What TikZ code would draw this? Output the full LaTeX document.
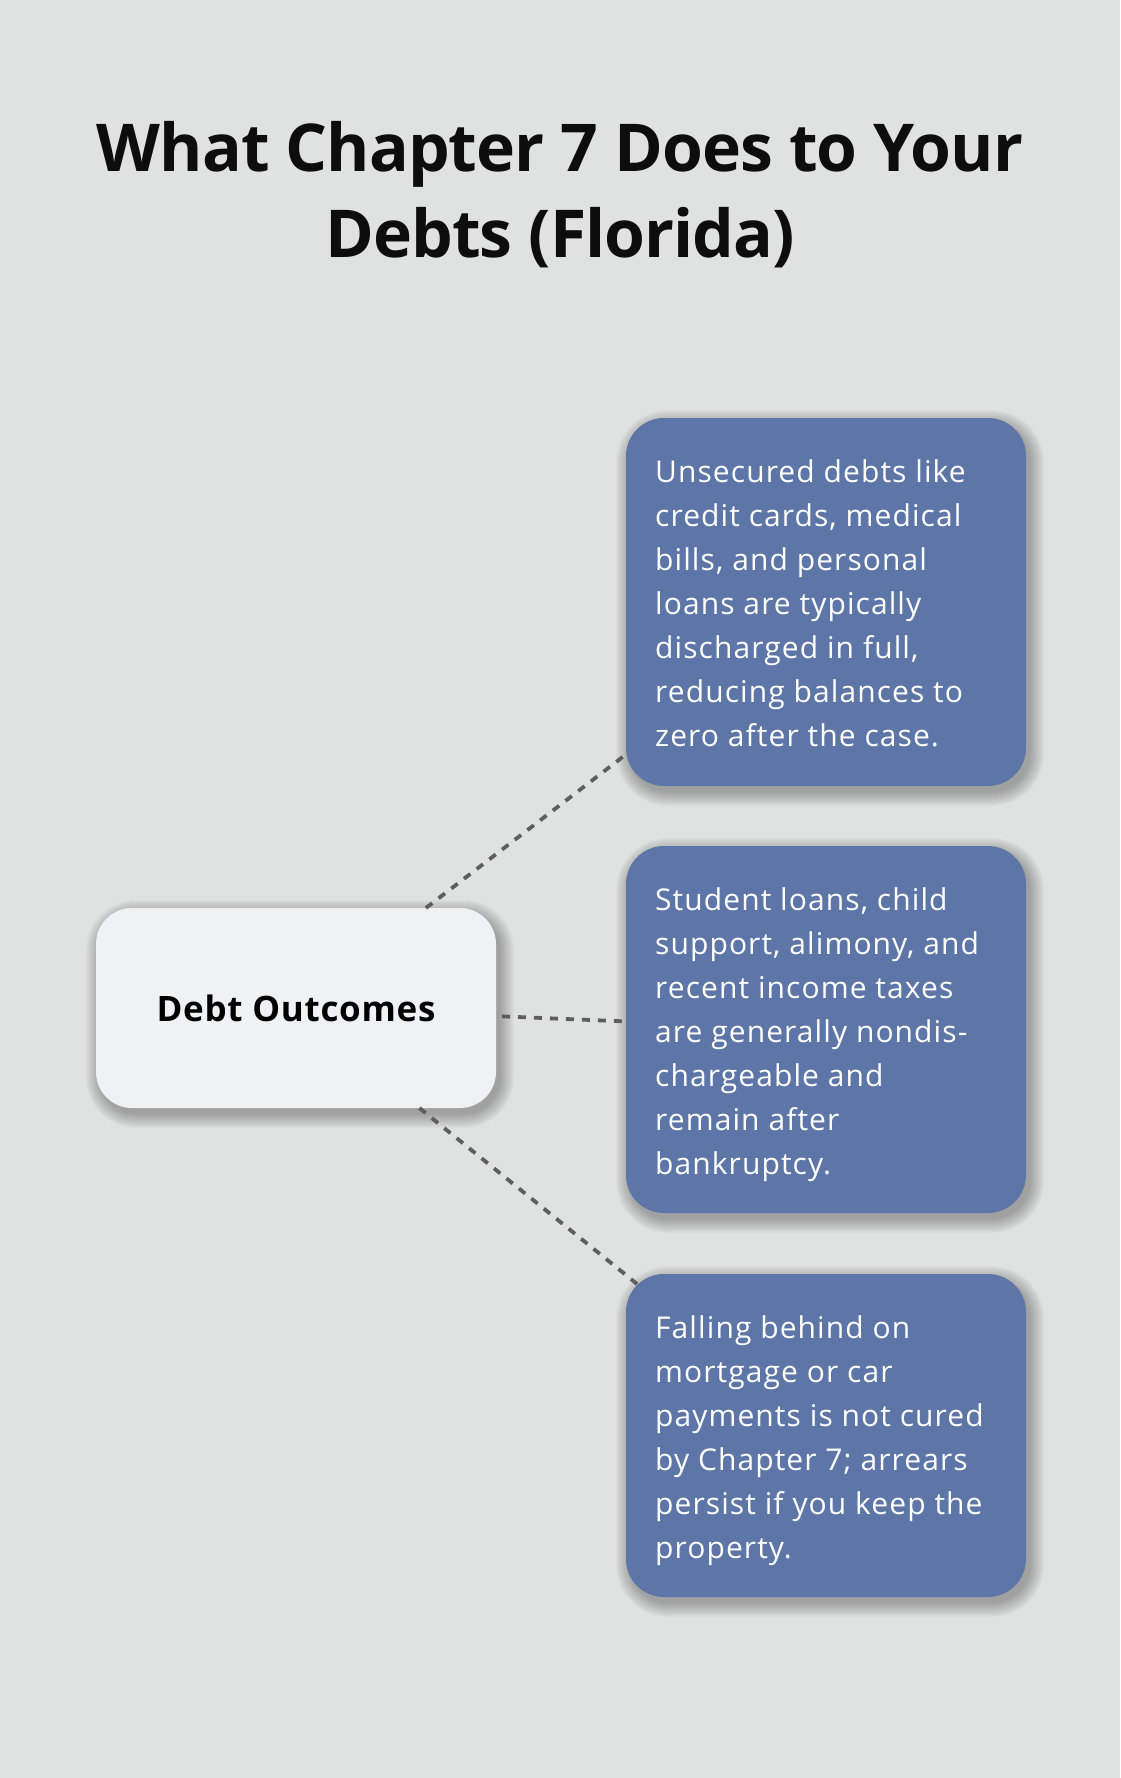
\documentclass[tikz,border=0pt]{standalone}
\usepackage{fontspec}
\setmainfont{Open Sans}
\newfontfamily\bodyfont[LetterSpace=3.6]{Open Sans}
\newfontfamily\centerfont[LetterSpace=2]{Open Sans}
\newfontfamily\titlefont[LetterSpace=-1.5]{Open Sans}
\begin{document}
\begin{tikzpicture}[x=1pt,y=-1pt,
  bodytext/.style={text=white, font=\bodyfont\fontsize{30}{44}\selectfont, inner sep=0pt, anchor=base west},
  titletext/.style={text=black!95, font=\titlefont\bfseries\fontsize{66}{86}\selectfont, inner sep=0pt, anchor=base},
  bluebox/.style={fill=boxblue, rounded corners=38pt, minimum width=400pt, inner sep=0pt, outer sep=0pt},
  centerbox/.style={fill=centerfill, rounded corners=36pt, minimum width=400pt, minimum height=200pt, inner sep=0pt, outer sep=0pt, font=\centerfont\bfseries\fontsize{35}{40}\selectfont},
  link/.style={draw=linkgray, line width=3.8pt, dash pattern=on 8pt off 8pt}
]
\definecolor{bgcol}{HTML}{E0E2E1}
\definecolor{boxblue}{HTML}{5D76A7}
\definecolor{centerfill}{HTML}{F0F1F3}
\definecolor{linkgray}{HTML}{5E5E5E}
\useasboundingbox (0,0) rectangle (1120,1778);
\fill[bgcol] (0,0) rectangle (1120,1778);
% soft shadows
\foreach \xa/\ya/\xb/\yb/\r in {626/418/1026/786/38, 626/846/1026/1213/38, 626/1274/1026/1597/38, 96/908/496/1108/36}{
  \foreach \i in {0,...,14}{
    \fill[black, opacity=0.018, rounded corners={\r+\i}] ({\xa+4-\i},{\ya+6-\i}) rectangle ({\xb+4+\i},{\yb+6+\i});
  }
}
% title
\node[titletext] (title1) at (560,171) {What Chapter 7 Does to Your};
\node[titletext] (title2) at (560,257) {Debts (Florida)};
% boxes
\node[centerbox] (center) at (296,1008) {Debt Outcomes};
\node[bluebox, minimum height=368pt] (b1) at (826,602) {};
\node[bluebox, minimum height=367pt] (b2) at (826,1029.5) {};
\node[bluebox, minimum height=323pt] (b3) at (826,1435.5) {};
% texts
\foreach \l [count=\i] in {{Unsecured debts like},{credit cards, medical},{bills, and personal},{loans are typically},{discharged in full,},{reducing balances to},{zero after the case.}}
  \node[bodytext] (t1-\i) at (655,{482+44*(\i-1)}) {\l};
\foreach \l [count=\i] in {{Student loans, child},{support, alimony, and},{recent income taxes},{are generally nondis-},{chargeable and},{remain after},{bankruptcy.}}
  \node[bodytext] (t2-\i) at (655,{910+44*(\i-1)}) {\l};
\foreach \l [count=\i] in {{Falling behind on},{mortgage or car},{payments is not cured},{by Chapter 7; arrears},{persist if you keep the},{property.}}
  \node[bodytext] (t3-\i) at (655,{1338+44*(\i-1)}) {\l};
% connectors
\draw[link] (center) -- (b1);
\draw[link, shorten <=6pt, shorten >=3pt] (center) -- (b2);
\draw[link, shorten >=-16pt] (center) -- (b3);
\end{tikzpicture}
\end{document}
